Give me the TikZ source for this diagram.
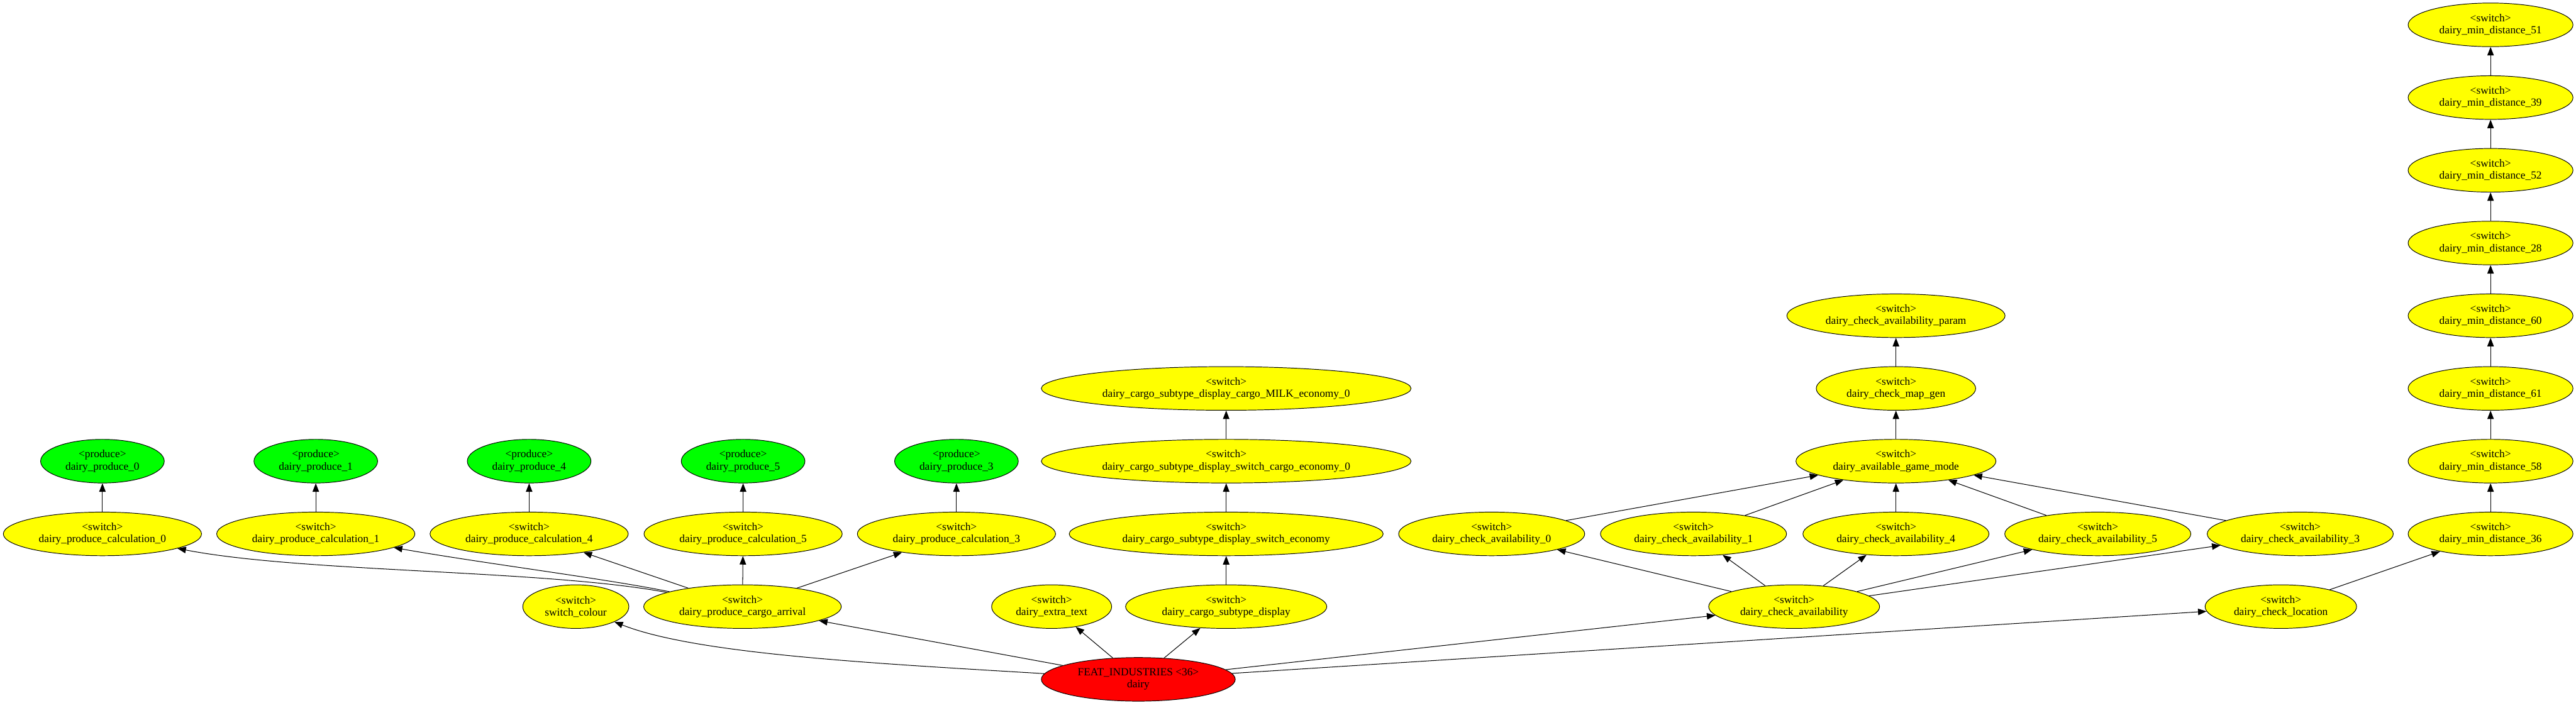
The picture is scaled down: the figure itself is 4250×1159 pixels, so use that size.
\documentclass[tikz,border=0pt]{standalone}
\usepackage{fontspec}
\setmainfont{Liberation Serif}
\usetikzlibrary{shapes.geometric,arrows.meta}
\definecolor{gvyellow}{RGB}{255,255,0}
\definecolor{gvgreen}{RGB}{0,255,0}
\definecolor{gvred}{RGB}{255,0,0}
\begin{document}
\begin{tikzpicture}[x=0.75pt,y=-0.75pt,
  gv/.style={ellipse,draw=black,line width=0.75pt,inner sep=0pt,align=center,minimum height=54pt,font=\fontsize{13.5}{15}\selectfont},
  sw/.style={gv,fill=gvyellow},
  pr/.style={gv,fill=gvgreen},
  ft/.style={gv,fill=gvred},
  ew/.style={minimum width=#1*0.75pt},
  edge/.style={draw=black,line width=0.8pt,-{Triangle[length=10.5pt,width=8pt]}}]
\useasboundingbox (0,0) rectangle (4250,1159);

% produce row
\node[pr,ew=204] (prod0) at (169,761) {<produce>\\dairy\_produce\_0};
\node[pr,ew=204] (prod1) at (521,761) {<produce>\\dairy\_produce\_1};
\node[pr,ew=204] (prod4) at (873,761) {<produce>\\dairy\_produce\_4};
\node[pr,ew=204] (prod5) at (1226,761) {<produce>\\dairy\_produce\_5};
\node[pr,ew=204] (prod3) at (1578,761) {<produce>\\dairy\_produce\_3};

% calculation row
\node[sw,ew=327] (calc0) at (169,881) {<switch>\\dairy\_produce\_calculation\_0};
\node[sw,ew=327] (calc1) at (521,881) {<switch>\\dairy\_produce\_calculation\_1};
\node[sw,ew=327] (calc4) at (873,881) {<switch>\\dairy\_produce\_calculation\_4};
\node[sw,ew=327] (calc5) at (1226,881) {<switch>\\dairy\_produce\_calculation\_5};
\node[sw,ew=327] (calc3) at (1578,881) {<switch>\\dairy\_produce\_calculation\_3};

\node[sw,ew=175] (colour) at (950,1001) {<switch>\\switch\_colour};
\node[sw,ew=326] (arrival) at (1225,1001) {<switch>\\dairy\_produce\_cargo\_arrival};
\node[sw,ew=198] (extra) at (1735,1001) {<switch>\\dairy\_extra\_text};
\node[sw,ew=332] (csd) at (2023,1001) {<switch>\\dairy\_cargo\_subtype\_display};
\node[sw,ew=518] (cse) at (2023,881) {<switch>\\dairy\_cargo\_subtype\_display\_switch\_economy};
\node[sw,ew=610] (cse0) at (2023,761) {<switch>\\dairy\_cargo\_subtype\_display\_switch\_cargo\_economy\_0};
\node[sw,ew=610] (milk) at (2023,641) {<switch>\\dairy\_cargo\_subtype\_display\_cargo\_MILK\_economy\_0};

% availability
\node[sw,ew=282] (ca) at (2960,1001) {<switch>\\dairy\_check\_availability};
\node[sw,ew=307] (ca0) at (2461,881) {<switch>\\dairy\_check\_availability\_0};
\node[sw,ew=307] (ca1) at (2794,881) {<switch>\\dairy\_check\_availability\_1};
\node[sw,ew=307] (ca4) at (3128,881) {<switch>\\dairy\_check\_availability\_4};
\node[sw,ew=307] (ca5) at (3461,881) {<switch>\\dairy\_check\_availability\_5};
\node[sw,ew=307] (ca3) at (3795,881) {<switch>\\dairy\_check\_availability\_3};
\node[sw,ew=330] (agm) at (3128,761) {<switch>\\dairy\_available\_game\_mode};
\node[sw,ew=263] (mapgen) at (3128,641) {<switch>\\dairy\_check\_map\_gen};
\node[sw,ew=360] (param) at (3128,521) {<switch>\\dairy\_check\_availability\_param};

% location chain
\node[sw,ew=250] (loc) at (3763,1001) {<switch>\\dairy\_check\_location};
\node[sw,ew=272] (md36) at (4109,881) {<switch>\\dairy\_min\_distance\_36};
\node[sw,ew=272] (md58) at (4109,761) {<switch>\\dairy\_min\_distance\_58};
\node[sw,ew=272] (md61) at (4109,641) {<switch>\\dairy\_min\_distance\_61};
\node[sw,ew=272] (md60) at (4109,521) {<switch>\\dairy\_min\_distance\_60};
\node[sw,ew=272] (md28) at (4109,401) {<switch>\\dairy\_min\_distance\_28};
\node[sw,ew=272] (md52) at (4109,281) {<switch>\\dairy\_min\_distance\_52};
\node[sw,ew=272] (md39) at (4109,161) {<switch>\\dairy\_min\_distance\_39};
\node[sw,ew=272] (md51) at (4109,41) {<switch>\\dairy\_min\_distance\_51};

% root
\node[ft,ew=320] (feat) at (1878,1121) {FEAT\_INDUSTRIES <36>\\dairy};

% edges from root
\draw[edge] (feat) .. controls (1450,1095) and (1150,1080) .. (colour);
\draw[edge] (feat) -- (arrival);
\draw[edge] (feat) -- (extra);
\draw[edge] (feat) -- (csd);
\draw[edge] (feat) -- (ca);
\draw[edge] (feat) -- (loc);

% produce branch
\draw[edge] (arrival) .. controls (900,940) and (500,945) .. (calc0);
\draw[edge] (arrival) .. controls (1000,955) and (800,930) .. (calc1);
\draw[edge] (arrival) -- (calc4);
\draw[edge] (arrival) -- (calc5);
\draw[edge] (arrival) -- (calc3);
\draw[edge] (calc0) -- (prod0);
\draw[edge] (calc1) -- (prod1);
\draw[edge] (calc4) -- (prod4);
\draw[edge] (calc5) -- (prod5);
\draw[edge] (calc3) -- (prod3);

% cargo subtype branch
\draw[edge] (csd) -- (cse);
\draw[edge] (cse) -- (cse0);
\draw[edge] (cse0) -- (milk);

% availability branch
\draw[edge] (ca) -- (ca0);
\draw[edge] (ca) -- (ca1);
\draw[edge] (ca) -- (ca4);
\draw[edge] (ca) -- (ca5);
\draw[edge] (ca) -- (ca3);
\draw[edge] (ca0) -- (agm);
\draw[edge] (ca1) -- (agm);
\draw[edge] (ca4) -- (agm);
\draw[edge] (ca5) -- (agm);
\draw[edge] (ca3) -- (agm);
\draw[edge] (agm) -- (mapgen);
\draw[edge] (mapgen) -- (param);

% location branch
\draw[edge] (loc) -- (md36);
\draw[edge] (md36) -- (md58);
\draw[edge] (md58) -- (md61);
\draw[edge] (md61) -- (md60);
\draw[edge] (md60) -- (md28);
\draw[edge] (md28) -- (md52);
\draw[edge] (md52) -- (md39);
\draw[edge] (md39) -- (md51);
\end{tikzpicture}
\end{document}
